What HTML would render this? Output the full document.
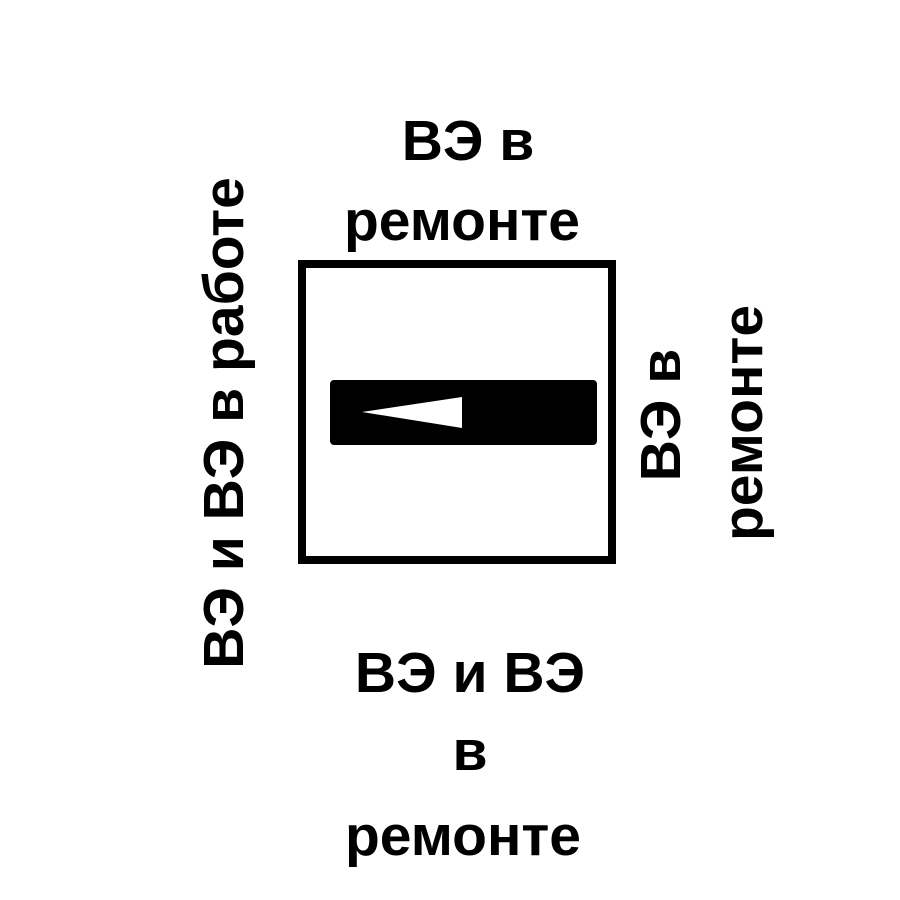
<!DOCTYPE html>
<html>
<head>
<meta charset="utf-8">
<style>
  html, body { margin: 0; padding: 0; background: #fff; }
  svg { display: block; }
  text { font-family: "Liberation Sans", "DejaVu Sans", sans-serif; font-weight: bold; font-size: 57px; fill: #000; }
</style>
</head>
<body>
<svg width="900" height="900" viewBox="0 0 900 900">
  <rect x="0" y="0" width="900" height="900" fill="#fff"/>
  <rect x="302" y="264" width="310" height="296" fill="none" stroke="#000" stroke-width="8"/>
  <rect x="330" y="380" width="267" height="65" rx="4" fill="#000"/>
  <polygon points="362,412 462,397 462,428" fill="#fff"/>

  <text x="468" y="160" text-anchor="middle">ВЭ в</text>
  <text x="462" y="240" text-anchor="middle">ремонте</text>

  <text x="470" y="692" text-anchor="middle">ВЭ и ВЭ</text>
  <text x="470" y="770" text-anchor="middle">в</text>
  <text x="463" y="855" text-anchor="middle">ремонте</text>

  <text transform="translate(243,423) rotate(-90)" text-anchor="middle">ВЭ и ВЭ в работе</text>

  <text transform="translate(680,415) rotate(-90)" text-anchor="middle">ВЭ в</text>
  <text transform="translate(762,423) rotate(-90)" text-anchor="middle">ремонте</text>
</svg>
</body>
</html>
